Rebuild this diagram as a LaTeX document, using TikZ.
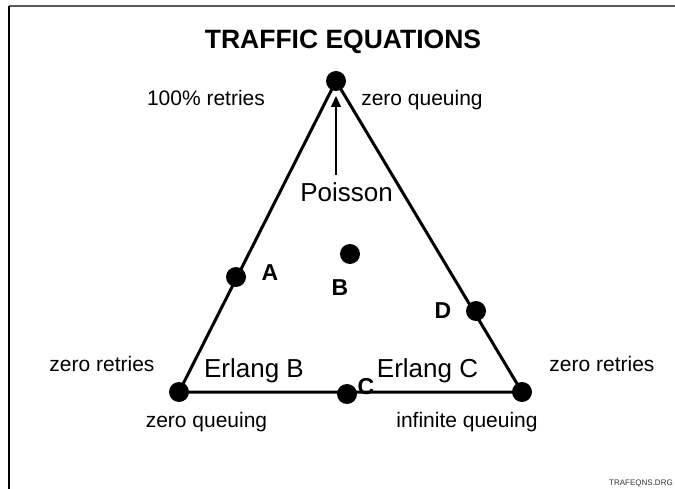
\documentclass[tikz,border=0pt]{standalone}
\usepackage{fontspec}
\setmainfont{Liberation Sans}
\usetikzlibrary{arrows.meta}
\begin{document}
\begin{tikzpicture}[x=1pt,y=-1pt,
  dot/.style={circle,fill=black,inner sep=0pt,minimum size=20pt},
  lbl/.style={font=\fontsize{21}{25}\selectfont,anchor=base,inner sep=0pt},
  biglbl/.style={font=\fontsize{26}{30}\selectfont,anchor=base,inner sep=0pt},
  letter/.style={font=\fontsize{23}{27}\selectfont\bfseries,anchor=base,inner sep=0pt},
  edge/.style={line width=3pt,line join=round}]
\useasboundingbox (0,0) rectangle (675,489);
% frame
\coordinate (fTL) at (9,6);
\coordinate (fTR) at (675,6);
\coordinate (fBL) at (9,489);
\draw[line width=1.5pt,black!65] (fTL) -- (fTR);
\draw[line width=1.8pt] (fBL) -- (fTL);
% title
\node[font=\fontsize{26.5}{30}\selectfont\bfseries,anchor=base,inner sep=0pt] (title) at (343,49) {TRAFFIC EQUATIONS};
% triangle vertices
\coordinate (top) at (336,81);
\coordinate (bl) at (179,392);
\coordinate (br) at (522,392);
\draw[edge] (top) -- (bl) -- (br) -- cycle;
% dots
\node[dot] (dtop) at (top) {};
\node[dot] (dbl) at (bl) {};
\node[dot] (dbr) at (br) {};
\node[dot] (dA) at (236,277) {};
\node[dot] (dB) at (350,254) {};
\node[dot] (dC) at (347,394) {};
\node[dot] (dD) at (476,311) {};
% arrow
\coordinate (arrS) at (336,175);
\coordinate (arrE) at (336,96);
\draw[line width=1.5pt,-{Triangle[length=11pt,width=10pt]}] (arrS) -- (arrE);
% labels
\node[lbl] (l100) at (206,106) {100\% retries};
\node[lbl] (lzqt) at (422,106) {zero queuing};
\node[biglbl] (lpois) at (346.5,202) {Poisson};
\node[letter] (lA) at (270,280) {A};
\node[letter] (lB) at (340,295) {B};
\node[letter] (lD) at (443,318) {D};
\node[letter] (lC) at (366,394) {C};
\node[lbl] (lzrl) at (102,371) {zero retries};
\node[lbl] (lzrr) at (602,371) {zero retries};
\node[biglbl] (lEB) at (254,377) {Erlang B};
\node[biglbl] (lEC) at (427.5,377) {Erlang C};
\node[lbl] (lzqb) at (206.5,427) {zero queuing};
\node[lbl] (liq) at (467,427) {infinite queuing};
\node[font=\fontsize{8}{9}\selectfont,anchor=base west,inner sep=0pt,text=black!80] (fname) at (609,485) {TRAFEQNS.DRG};
\end{tikzpicture}
\end{document}
